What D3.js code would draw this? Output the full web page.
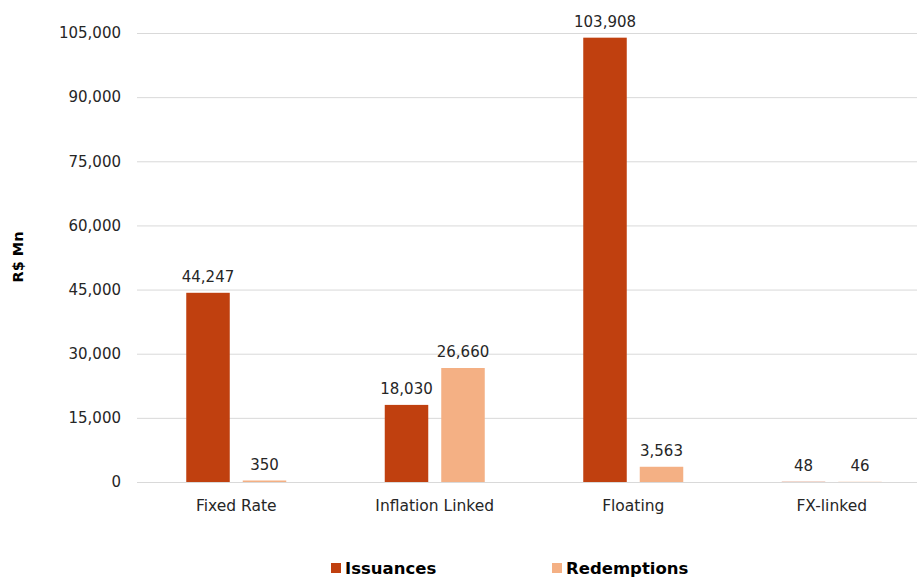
<!DOCTYPE html>
<html><head><meta charset="utf-8">
<script src="https://cdn.jsdelivr.net/npm/d3@7"></script>
<style>body{margin:0;background:#fff;} text{font-family:"DejaVu Sans",sans-serif;}</style>
</head><body>
<svg id="c" width="917" height="577"></svg>
<script>
const categories = ["Fixed Rate","Inflation Linked","Floating","FX-linked"];
const issuances = [44247, 18030, 103908, 48];
const redemptions = [350, 26660, 3563, 46];
const seriesNames = ["Issuances","Redemptions"];
const colors = ["#C0400F","#F4B084"];
const yTicks = [0,15000,30000,45000,60000,75000,90000,105000];

(function(){
const svg = d3.select("#c");
const mL = 137, mR = 931, mT = 33, mB = 482;
const x = d3.scaleBand().domain(categories).range([mL,mR]);
const xs = d3.scaleBand().domain(seriesNames).range([0,100]).paddingInner(0.23);
const y = d3.scaleLinear().domain([0,105000]).range([mB,mT]);
const fmt = d3.format(",");

svg.append("g").selectAll("line").data(yTicks).join("line")
  .attr("x1",mL).attr("x2",917).attr("y1",d=>y(d)+0.5).attr("y2",d=>y(d)+0.5)
  .attr("stroke","#d9d9d9").attr("stroke-width",1);
svg.append("g").selectAll("text").data(yTicks).join("text")
  .attr("x",121).attr("y",d=>y(d)).attr("dy","0.35em").attr("text-anchor","end")
  .attr("font-size",15).attr("fill","#262626").text(d=>fmt(d));
svg.append("g").selectAll("text").data(categories).join("text")
  .attr("x",d=>x(d)+x.bandwidth()/2).attr("y",511).attr("text-anchor","middle")
  .attr("font-size",15.5).attr("fill","#262626").text(d=>d);

const data = categories.map((c,i)=>({c, vals:[issuances[i],redemptions[i]]}));
const g = svg.append("g").selectAll("g").data(data).join("g")
  .attr("transform",d=>`translate(${x(d.c)+x.bandwidth()/2-50},0)`);
g.selectAll("rect").data(d=>d.vals.map((v,j)=>({v,j}))).join("rect")
  .attr("x",d=>xs(seriesNames[d.j])).attr("width",xs.bandwidth())
  .attr("y",d=>y(d.v)).attr("height",d=>mB-y(d.v)).attr("fill",d=>colors[d.j]);
g.selectAll("text").data(d=>d.vals.map((v,j)=>({v,j}))).join("text")
  .attr("x",d=>xs(seriesNames[d.j])+xs.bandwidth()/2).attr("y",d=>y(d.v)-16)
  .attr("dy","0.35em").attr("text-anchor","middle").attr("font-size",15).attr("fill","#262626").text(d=>fmt(d.v));

svg.append("text").attr("transform","translate(23,257) rotate(-90)").attr("text-anchor","middle")
  .attr("font-size",14.5).attr("font-weight","bold").attr("fill","#000").text("R$ Mn");

const legX = [331,552];
const lg = svg.append("g").selectAll("g").data(seriesNames).join("g")
  .attr("transform",(d,i)=>`translate(${legX[i]},0)`);
lg.append("rect").attr("x",0).attr("y",563).attr("width",10).attr("height",10).attr("fill",(d,i)=>colors[i]);
lg.append("text").attr("x",14).attr("y",573.5).attr("font-size",16.5).attr("font-weight","bold").attr("fill","#000").text(d=>d);
})();
</script>
</body></html>
